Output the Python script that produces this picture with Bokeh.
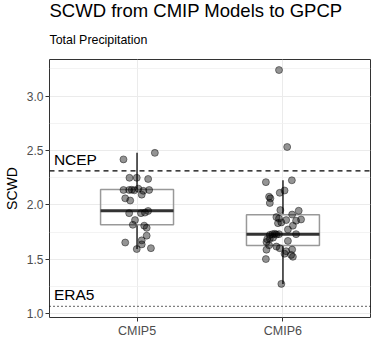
from bokeh.plotting import figure
from bokeh.models import Range1d, FixedTicker, Span, Label, Title, ColumnDataSource, PrintfTickFormatter
from bokeh.embed import file_html
from bokeh.resources import INLINE
import numpy as np

# ---- data ----
groups = ["CMIP5", "CMIP6"]
group_pos = [1, 2]

cmip5_scwd = [2.479, 2.419, 2.250, 2.250, 2.239, 2.138, 2.138, 2.140, 2.135, 2.150,
              2.130, 2.138, 2.095, 2.061, 2.041, 1.925, 1.925, 1.930, 1.945, 1.861,
              1.818, 1.810, 1.790, 1.718, 1.675, 1.655, 1.638, 1.595, 1.603]
cmip5_jitter = [0.122, -0.093, -0.052, -0.002, 0.076, -0.093, -0.054, -0.036, -0.018, 0.009,
                0.043, 0.083, 0.032, -0.081, -0.047, -0.054, 0.027, 0.054, 0.076, -0.014,
                -0.029, 0.049, 0.066, 0.066, 0.032, -0.081, 0.032, -0.002, 0.095]

cmip6_scwd = [3.240, 2.533, 2.210, 2.227, 2.133, 2.112, 2.076, 2.061, 2.018, 1.953,
              1.912, 1.947, 1.889, 1.875, 1.861, 1.867, 1.855, 1.840, 1.833, 1.810,
              1.775, 1.732, 1.735, 1.728, 1.732, 1.725, 1.732, 1.690, 1.686, 1.700,
              1.670, 1.660, 1.630, 1.618, 1.603, 1.589, 1.590, 1.575, 1.552, 1.541,
              1.524, 1.503, 1.275]
cmip6_jitter = [-0.027, 0.029, -0.117, 0.061, 0.011, -0.022, -0.095, -0.086, -0.090, -0.018,
                0.063, 0.108, -0.045, -0.027, 0.022, 0.124, 0.090, -0.011, -0.034, 0.068,
                0.034, -0.072, -0.056, -0.045, -0.027, -0.090, 0.090, -0.090, -0.108, -0.068,
                0.034, -0.113, -0.095, -0.045, -0.022, -0.113, 0.063, 0.022, 0.011, 0.056,
                0.068, -0.117, -0.011]

box_q1 = [1.818, 1.627]
box_median = [1.947, 1.732]
box_q3 = [2.142, 1.910]

ncep_ref = 2.313
era5_ref = 1.069

title_text = "SCWD from CMIP Models to GPCP"
subtitle_text = "Total Precipitation"

y_ticks = [1.0, 1.5, 2.0, 2.5, 3.0]
y_minor = [0.75, 1.25, 1.75, 2.25, 2.75, 3.25]

# ---- whiskers from the data (1.5 IQR rule) ----
series = [cmip5_scwd, cmip6_scwd]
w_lo, w_hi = [], []
for vals, q1, q3 in zip(series, box_q1, box_q3):
    v = np.array(vals)
    iqr = q3 - q1
    w_lo.append(float(v[v >= q1 - 1.5 * iqr].min()))
    w_hi.append(float(v[v <= q3 + 1.5 * iqr].max()))

half = 0.25
box_src = ColumnDataSource(dict(
    x=group_pos,
    left=[g - half for g in group_pos], right=[g + half for g in group_pos],
    q1=box_q1, q3=box_q3, med=box_median, lo=w_lo, hi=w_hi))

pts_src = ColumnDataSource(dict(
    x=[1 + j for j in cmip5_jitter] + [2 + j for j in cmip6_jitter],
    y=cmip5_scwd + cmip6_scwd))

FONT = "Liberation Sans"

p = figure(width=372, height=340, output_backend="svg", toolbar_location=None,
           title=None, x_range=Range1d(0.4, 2.6), y_range=Range1d(0.966, 3.337),
           min_border_left=44, min_border_right=2, min_border_top=0, min_border_bottom=0)

p.add_layout(Title(text=subtitle_text, text_font=FONT, text_font_size="12.4px",
                   text_font_style="normal", text_color="#000000", align="left",
                   text_line_height=0.9, standoff=26), "above")
p.add_layout(Title(text=title_text, text_font=FONT,
                   text_font_size="18.5px", text_font_style="normal",
                   text_color="#000000", align="left",
                   text_line_height=0.8, standoff=-6), "above")

p.background_fill_color = "white"
p.border_fill_color = "white"
p.outline_line_color = "#333333"
p.outline_line_width = 1

# axes
p.xaxis.ticker = FixedTicker(ticks=group_pos)
p.xaxis.major_label_overrides = {g: n for g, n in zip(group_pos, groups)}
p.xaxis.axis_label = None
p.xaxis.axis_label_standoff = 0
p.yaxis.ticker = FixedTicker(ticks=y_ticks, minor_ticks=y_minor)
p.yaxis.formatter = PrintfTickFormatter(format="%.1f")
p.yaxis.axis_label = "SCWD"
for ax in (p.xaxis, p.yaxis):
    ax.axis_line_color = None
    ax.major_tick_line_color = "#333333"
    ax.major_tick_out = 4
    ax.major_tick_in = 0
    ax.minor_tick_out = 0
    ax.minor_tick_in = 0
    ax.minor_tick_line_color = None
    ax.major_label_text_font = FONT
    ax.major_label_text_font_size = "12.5px"
    ax.major_label_text_color = "#4d4d4d"
    ax.major_label_standoff = 2
p.xaxis.major_label_text_line_height = 1.0
p.yaxis.major_label_text_font_size = "12px"
p.yaxis.axis_label_text_font = FONT
p.yaxis.axis_label_text_font_size = "14px"
p.yaxis.axis_label_text_font_style = "normal"
p.yaxis.axis_label_text_color = "#000000"
p.yaxis.axis_label_standoff = 4

# grid
p.xgrid.grid_line_color = "#ebebeb"
p.ygrid.grid_line_color = "#ebebeb"
p.xgrid.grid_line_width = 1
p.ygrid.grid_line_width = 1
p.ygrid.minor_grid_line_color = "#f0f0f0"
p.ygrid.minor_grid_line_width = 0.8

# reference lines
p.add_layout(Span(location=ncep_ref, dimension="width", line_color="#000000",
                  line_dash="5 4", line_width=1.3))
p.add_layout(Span(location=era5_ref, dimension="width", line_color="#000000",
                  line_dash="1 3", line_width=1.3))
p.add_layout(Label(x=0.43, y=ncep_ref, y_offset=3, text="NCEP", text_font=FONT,
                   text_font_size="15.5px", text_baseline="bottom", text_color="#000000"))
p.add_layout(Label(x=0.43, y=era5_ref, y_offset=3, text="ERA5", text_font=FONT,
                   text_font_size="15.5px", text_baseline="bottom", text_color="#000000"))

# boxplots
p.segment(x0="x", y0="q3", x1="x", y1="hi", source=box_src, line_color="#333333", line_width=1.6)
p.segment(x0="x", y0="q1", x1="x", y1="lo", source=box_src, line_color="#333333", line_width=1.6)
p.quad(left="left", right="right", bottom="q1", top="q3", source=box_src,
       fill_color=None, line_color="#999999", line_width=1.5)
p.segment(x0="left", y0="med", x1="right", y1="med", source=box_src,
          line_color="#333333", line_width=3)

# jittered points
p.scatter(x="x", y="y", source=pts_src, size=7, fill_color="#000000", fill_alpha=0.42,
          line_color="#000000", line_alpha=0.55, line_width=0.8)

open("out.html", "w").write(file_html(p, INLINE))
